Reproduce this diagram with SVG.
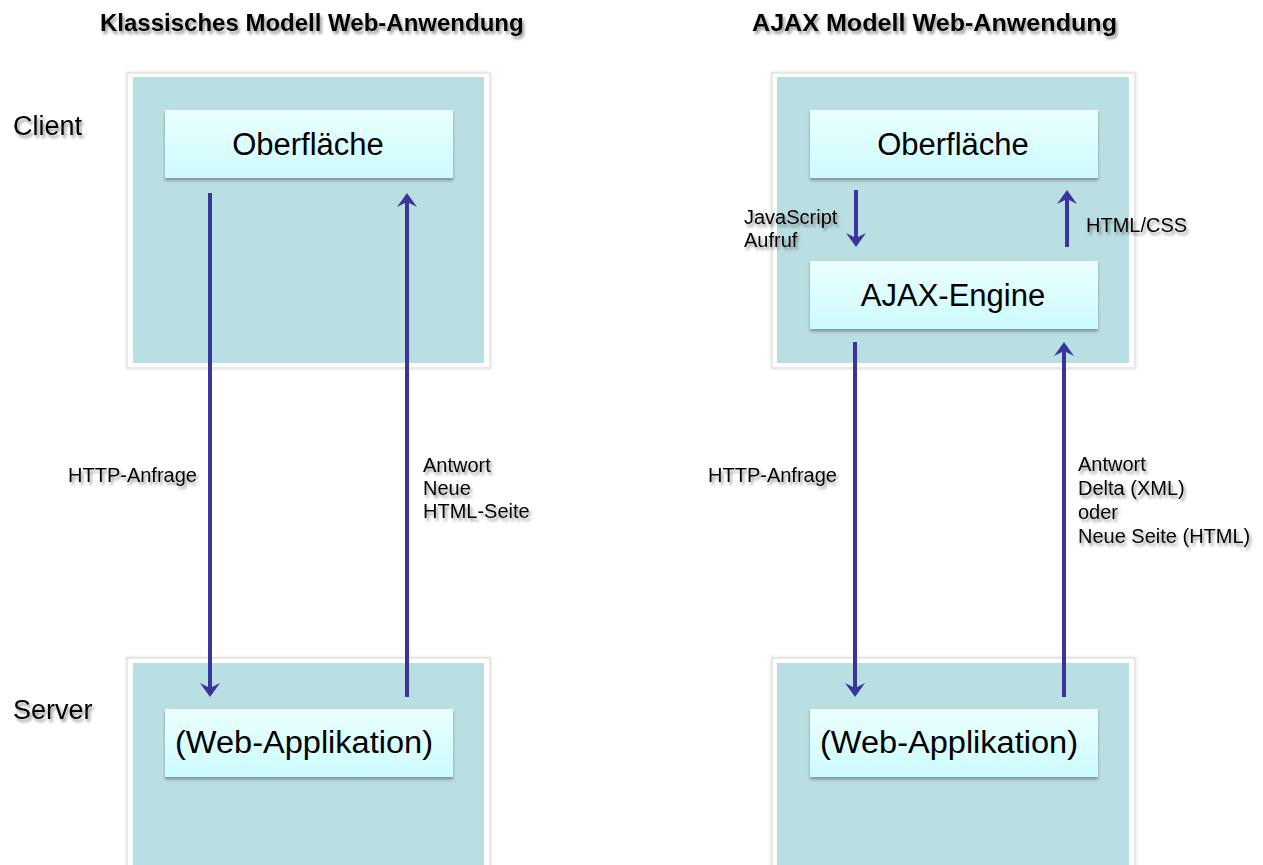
<svg xmlns="http://www.w3.org/2000/svg" width="1263" height="865" viewBox="0 0 1263 865">
<defs>
<linearGradient id="ig" x1="0" y1="0" x2="0" y2="1">
<stop offset="0" stop-color="#ebffff"/>
<stop offset="1" stop-color="#ccfbfd"/>
</linearGradient>
<filter id="ts" x="-10%" y="-30%" width="125%" height="180%">
<feDropShadow dx="2" dy="3" stdDeviation="1.6" flood-color="#444" flood-opacity="0.55"/>
</filter>
<filter id="bs" x="-5%" y="-10%" width="110%" height="130%">
<feDropShadow dx="0" dy="2.5" stdDeviation="1.5" flood-color="#333" flood-opacity="0.45"/>
</filter>
<filter id="fs" x="-5%" y="-5%" width="110%" height="110%">
<feDropShadow dx="0" dy="0" stdDeviation="1.5" flood-color="#000" flood-opacity="0.15"/>
</filter>
<marker id="ah" markerUnits="userSpaceOnUse" viewBox="-16 -11 18 22" markerWidth="18" markerHeight="22" refX="-5" refY="0" orient="auto">
<path d="M0,0 L-14,-10 L-9,0 L-14,10 Z" fill="#39369b"/>
</marker>
</defs>
<style>
.frame{fill:#fff;stroke:#e2e2e2;stroke-width:1.5}
.teal{fill:#badfe2}
.inner{fill:url(#ig);filter:url(#bs)}
.big{font-family:"Liberation Sans",Arial,sans-serif;font-size:31px;fill:#000;text-anchor:middle}
.title{font-family:"Liberation Sans",Arial,sans-serif;font-size:24px;font-weight:bold;fill:#000;filter:url(#ts)}
.side{font-family:"Liberation Sans",Arial,sans-serif;font-size:27px;fill:#000;filter:url(#ts)}
.lbl{font-family:"Liberation Sans",Arial,sans-serif;font-size:20px;fill:#000;filter:url(#ts)}
.conn{stroke:#39369b;stroke-width:4;fill:none;marker-end:url(#ah)}
</style>
<rect width="1263" height="865" fill="#fff"/>

<g id="titles">
<text class="title" x="100" y="31">Klassisches Modell Web-Anwendung</text>
<text class="title" x="752" y="31" textLength="365" lengthAdjust="spacingAndGlyphs">AJAX Modell Web-Anwendung</text>
<text class="side" x="13" y="135">Client</text>
<text class="side" x="13" y="719">Server</text>
</g>

<g id="client-classic">
<rect class="frame" x="127" y="73" width="363" height="295" filter="url(#fs)"/>
<rect class="teal" x="133" y="77" width="351" height="286"/>
</g>
<g id="server-classic">
<rect class="frame" x="127" y="658" width="363" height="212" filter="url(#fs)"/>
<rect class="teal" x="133" y="663" width="351" height="202"/>
</g>
<g id="client-ajax">
<rect class="frame" x="772" y="73" width="363" height="295" filter="url(#fs)"/>
<rect class="teal" x="777" y="77" width="352" height="286"/>
</g>
<g id="server-ajax">
<rect class="frame" x="772" y="658" width="363" height="212" filter="url(#fs)"/>
<rect class="teal" x="777" y="663" width="352" height="202"/>
</g>

<g id="oberflaeche-classic">
<rect class="inner" x="165" y="110" width="288" height="68"/>
<text class="big" x="308" y="155">Oberfläche</text>
</g>
<g id="webapp-classic">
<rect class="inner" x="165" y="709" width="288" height="68"/>
<text class="big" x="304" y="753" textLength="258" lengthAdjust="spacingAndGlyphs">(Web-Applikation)</text>
</g>
<g id="oberflaeche-ajax">
<rect class="inner" x="810" y="110" width="288" height="68"/>
<text class="big" x="953" y="155">Oberfläche</text>
</g>
<g id="ajax-engine">
<rect class="inner" x="810" y="261" width="288" height="68"/>
<text class="big" x="953" y="306">AJAX-Engine</text>
</g>
<g id="webapp-ajax">
<rect class="inner" x="810" y="709" width="288" height="68"/>
<text class="big" x="949" y="753" textLength="258" lengthAdjust="spacingAndGlyphs">(Web-Applikation)</text>
</g>

<g id="connectors">
<line class="conn" x1="210" y1="193" x2="210" y2="692"/>
<line class="conn" x1="407" y1="697" x2="407" y2="198"/>
<line class="conn" x1="856" y1="190" x2="856" y2="242"/>
<line class="conn" x1="1067" y1="247" x2="1067" y2="195"/>
<line class="conn" x1="855" y1="342" x2="855" y2="692"/>
<line class="conn" x1="1064" y1="697" x2="1064" y2="347"/>
</g>

<g id="labels">
<text class="lbl" x="68" y="482">HTTP-Anfrage</text>
<text class="lbl" x="423" y="472">Antwort</text>
<text class="lbl" x="423" y="495">Neue</text>
<text class="lbl" x="423" y="518">HTML-Seite</text>
<text class="lbl" x="744" y="224">JavaScript</text>
<text class="lbl" x="744" y="247">Aufruf</text>
<text class="lbl" x="1086" y="232">HTML/CSS</text>
<text class="lbl" x="708" y="482">HTTP-Anfrage</text>
<text class="lbl" x="1078" y="471">Antwort</text>
<text class="lbl" x="1078" y="495">Delta (XML)</text>
<text class="lbl" x="1078" y="519">oder</text>
<text class="lbl" x="1078" y="543">Neue Seite (HTML)</text>
</g>
</svg>
